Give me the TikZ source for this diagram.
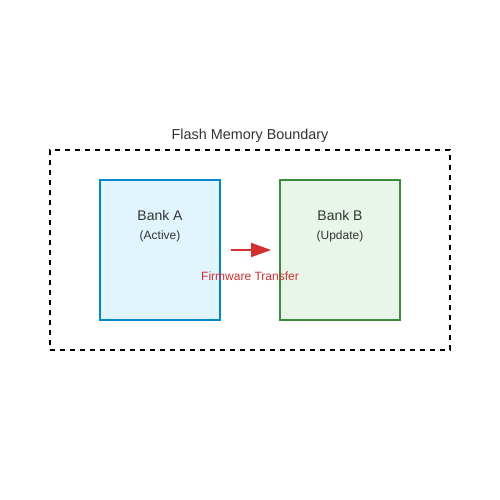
\documentclass[tikz,border=0pt]{standalone}
\usepackage{fontspec}
\setmainfont{Liberation Sans}
\usetikzlibrary{arrows.meta,positioning}
\definecolor{txtgray}{HTML}{333333}
\definecolor{bankAline}{HTML}{0288D1}
\definecolor{bankAfill}{HTML}{E1F5FE}
\definecolor{bankBline}{HTML}{388E3C}
\definecolor{bankBfill}{HTML}{E8F5E9}
\definecolor{xferred}{HTML}{D32F2F}
\tikzset{
  bank/.style={draw, line width=2pt, minimum width=120pt, minimum height=140pt, inner sep=0pt},
  banktitle/.style={text=txtgray, font=\fontsize{14}{16}\selectfont, inner sep=0pt},
  banksub/.style={text=txtgray, font=\fontsize{12}{14}\selectfont, inner sep=0pt},
}
\begin{document}
\begin{tikzpicture}[x=1pt,y=-1pt]
\useasboundingbox (0,0) rectangle (500,500);

% flash boundary
\node[draw, dash pattern=on 5pt off 5pt, line width=1.5pt, minimum width=400pt, minimum height=200pt, inner sep=0pt] (flash) at (250,250) {};
\node[banktitle, font=\fontsize{14.4}{16}\selectfont] (flashlbl) at (250,136) {Flash Memory Boundary};

% the two banks
\node[bank, draw=bankAline, fill=bankAfill] (bankA) at (160,250) {};
\node[banktitle] (bankAname) at (160,215) {Bank A};
\node[banksub] (bankAstate) at (160,236) {(Active)};

\node[bank, draw=bankBline, fill=bankBfill] (bankB) at (340,250) {};
\node[banktitle] (bankBname) at (340,215) {Bank B};
\node[banksub] (bankBstate) at (340,236) {(Update)};

% transfer
\draw[xferred, line width=2pt, -{Triangle[length=20pt,width=14pt]}, shorten <=10pt, shorten >=8pt] (bankA.east) -- (bankB.west);
\node[text=xferred, font=\fontsize{12}{14}\selectfont, inner sep=0pt] (xferlbl) at (250,276) {Firmware Transfer};
\end{tikzpicture}
\end{document}
